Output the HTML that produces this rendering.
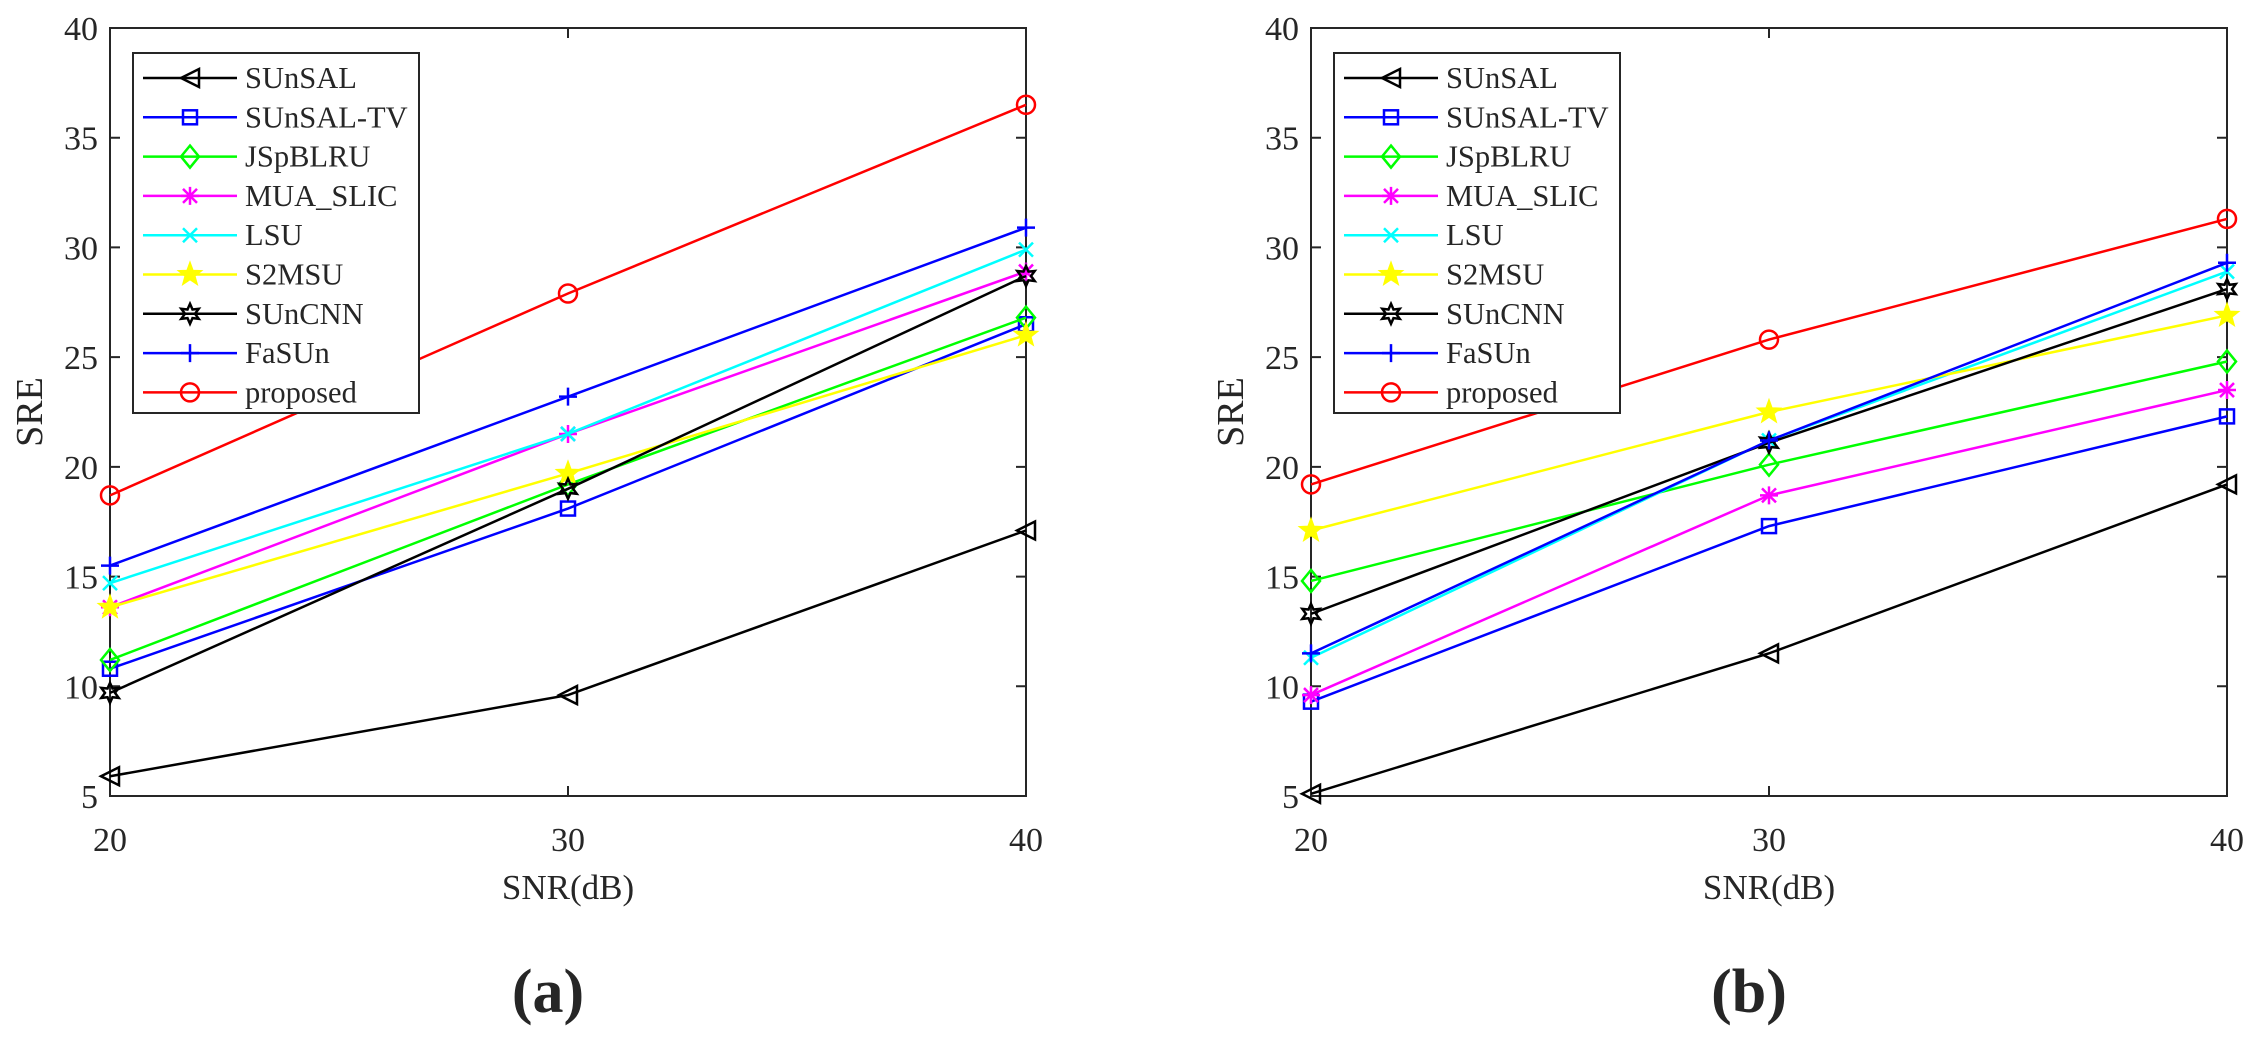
<!DOCTYPE html>
<html><head><meta charset="utf-8"><style>
body{margin:0;background:#fff}
svg text{font-family:"Liberation Serif",serif;fill:#262626}
</style></head><body>
<svg id="fig" width="2267" height="1040" viewBox="0 0 2267 1040" xmlns="http://www.w3.org/2000/svg"></svg>
<script>
const xCategories = [20, 30, 40];
const yTicks = [5, 10, 15, 20, 25, 30, 35, 40];
const seriesNames = ["SUnSAL","SUnSAL-TV","JSpBLRU","MUA_SLIC","LSU","S2MSU","SUnCNN","FaSUn","proposed"];
const seriesColors = ["#000","#0000ff","#00ff00","#ff00ff","#00ffff","#ffff00","#000","#0000ff","#ff0000"];
const seriesMarkers = ["tri","square","diamond","asterisk","x","star","hexstar","plus","circle"];
const dataA_SUnSAL = [5.9, 9.6, 17.1];
const dataA_SUnSALTV = [10.8, 18.1, 26.5];
const dataA_JSpBLRU = [11.2, 19.2, 26.8];
const dataA_MUASLIC = [13.6, 21.5, 28.9];
const dataA_LSU = [14.7, 21.5, 29.9];
const dataA_S2MSU = [13.6, 19.7, 26.0];
const dataA_SUnCNN = [9.7, 19.0, 28.7];
const dataA_FaSUn = [15.5, 23.2, 30.9];
const dataA_proposed = [18.7, 27.9, 36.5];
const dataB_SUnSAL = [5.1, 11.5, 19.2];
const dataB_SUnSALTV = [9.3, 17.3, 22.3];
const dataB_JSpBLRU = [14.8, 20.1, 24.8];
const dataB_MUASLIC = [9.6, 18.7, 23.5];
const dataB_LSU = [11.3, 21.2, 28.9];
const dataB_S2MSU = [17.1, 22.5, 26.9];
const dataB_SUnCNN = [13.3, 21.1, 28.1];
const dataB_FaSUn = [11.5, 21.2, 29.3];
const dataB_proposed = [19.2, 25.8, 31.3];
const panelA = [dataA_SUnSAL,dataA_SUnSALTV,dataA_JSpBLRU,dataA_MUASLIC,dataA_LSU,dataA_S2MSU,dataA_SUnCNN,dataA_FaSUn,dataA_proposed];
const panelB = [dataB_SUnSAL,dataB_SUnSALTV,dataB_JSpBLRU,dataB_MUASLIC,dataB_LSU,dataB_S2MSU,dataB_SUnCNN,dataB_FaSUn,dataB_proposed];

const NS="http://www.w3.org/2000/svg";
const svg=document.getElementById('fig');
function mk(tag,attrs,parent,text){const e=document.createElementNS(NS,tag);for(const k in attrs)e.setAttribute(k,attrs[k]);if(text!==undefined)e.textContent=text;(parent||svg).appendChild(e);return e;}

function marker(g,type,x,y,color){
  const s=9;let e;const st={fill:'none',stroke:color,'stroke-width':2.5};
  if(type==='tri'){e=mk('polygon',Object.assign({points:`${x-s},${y} ${x+s},${y-s} ${x+s},${y+s}`},st),g);}
  else if(type==='square'){e=mk('rect',Object.assign({x:x-7,y:y-7,width:14,height:14},st),g);}
  else if(type==='diamond'){e=mk('polygon',Object.assign({points:`${x},${y-11} ${x+9},${y} ${x},${y+11} ${x-9},${y}`},st),g);}
  else if(type==='circle'){e=mk('circle',Object.assign({cx:x,cy:y,r:9},st),g);}
  else if(type==='plus'){e=mk('path',Object.assign({d:`M${x-s} ${y}H${x+s}M${x} ${y-s}V${y+s}`},st),g);}
  else if(type==='x'){e=mk('path',Object.assign({d:`M${x-7} ${y-7}L${x+7} ${y+7}M${x-7} ${y+7}L${x+7} ${y-7}`},st),g);}
  else if(type==='asterisk'){e=mk('path',Object.assign({d:`M${x-s} ${y}H${x+s}M${x} ${y-s}V${y+s}M${x-7} ${y-7}L${x+7} ${y+7}M${x-7} ${y+7}L${x+7} ${y-7}`},st),g);}
  else if(type==='star'){let p=[];for(let i=0;i<10;i++){const r=i%2?5:12,a=-Math.PI/2+i*Math.PI/5;p.push((x+r*Math.cos(a)).toFixed(1)+','+(y+r*Math.sin(a)).toFixed(1));}
    e=mk('polygon',{points:p.join(' '),fill:color,stroke:color,'stroke-width':1.5},g);}
  else if(type==='hexstar'){let p=[];for(let i=0;i<12;i++){const r=i%2?5:10,a=-Math.PI/2+i*Math.PI/6;p.push((x+r*Math.cos(a)).toFixed(1)+','+(y+r*Math.sin(a)).toFixed(1));}
    e=mk('polygon',Object.assign({points:p.join(' ')},st),g);}
  
  
}

function panel(left,data,label,pname){
  const right=left+916, top=28, bottom=796;
  const X=v=>left+(v-20)/20*(right-left);
  const Y=v=>bottom-(v-5)/35*(bottom-top);
  const g=mk('g',{});
  
  
  const frame=mk('rect',{x:left,y:top,width:right-left,height:bottom-top,fill:'none',stroke:'#262626','stroke-width':2},g);
  
  
  yTicks.forEach(t=>{const y=Y(t);
    mk('path',{d:`M${left} ${y}h10M${right} ${y}h-10`,stroke:'#262626','stroke-width':2},g);
    const tx=mk('text',{x:left-12,y:y+12,'font-size':34,'text-anchor':'end'},g,String(t));
    
    
  });
  xCategories.forEach(c=>{const x=X(c);
    mk('path',{d:`M${x} ${bottom}v-10M${x} ${top}v10`,stroke:'#262626','stroke-width':2},g);
    const tx=mk('text',{x:x,y:851,'font-size':34,'text-anchor':'middle'},g,String(c));
    
    
  });
  const xt=mk('text',{x:(left+right)/2,y:899,'font-size':35,'text-anchor':'middle'},g,'SNR(dB)');
  
  
  const yt=mk('text',{x:0,y:0,'font-size':38,'text-anchor':'middle',transform:`translate(${left-68},${(top+bottom)/2}) rotate(-90)`},g,'SRE');
  
  
  data.forEach((vals,i)=>{
    const sg=mk('g',{},g);
    
    
    const pts=vals.map((v,j)=>X(xCategories[j])+','+Y(v)).join(' ');
    const pl=mk('polyline',{points:pts,fill:'none',stroke:seriesColors[i],'stroke-width':2.5},sg);
    
    
    vals.forEach((v,j)=>marker(sg,seriesMarkers[i],X(xCategories[j]),Y(v),seriesColors[i]));
  });
  const lg=mk('g',{},g);
  
  
  const lx=left+23;
  mk('rect',{x:lx,y:53,width:286,height:360,fill:'#fff',stroke:'#262626','stroke-width':2},lg);
  seriesNames.forEach((n,i)=>{
    const y=78+i*39.3;
    const eg=mk('g',{},lg);
    
    
    mk('line',{x1:lx+10,x2:lx+104,y1:y,y2:y,stroke:seriesColors[i],'stroke-width':2.5},eg);
    marker(eg,seriesMarkers[i],lx+57,y,seriesColors[i]);
    mk('text',{x:lx+112,y:y+10,'font-size':30.5},eg,n);
  });
  const pl=mk('text',{x:(left+right)/2-20,y:1012,'font-size':62,'font-weight':'bold','text-anchor':'middle'},g,label);
  
  
}
panel(110,panelA,'(a)','panel-a');
panel(1311,panelB,'(b)','panel-b');
</script>
</body></html>
